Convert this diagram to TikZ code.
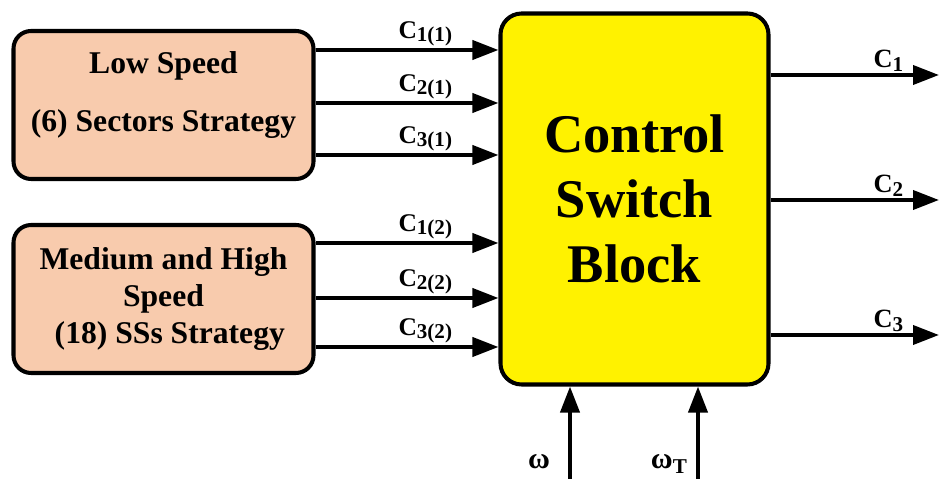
\documentclass[tikz,border=0pt]{standalone}
\usepackage{fontspec}
\setmainfont{Liberation Serif}
\usetikzlibrary{positioning,arrows.meta}
\definecolor{peach}{RGB}{248,203,173}
\newcommand{\idx}[1]{\raisebox{-0.3ex}{\fontsize{12}{14}\selectfont #1}}

\begin{document}
\begin{tikzpicture}[
  font=\bfseries, >={Triangle[length=0.52cm,width=0.38cm]},
  strat/.style={draw, line width=2.3pt, rounded corners=10pt, fill=peach, align=center,
                minimum width=6cm, minimum height=2.96cm,
                font=\fontsize{18}{21}\selectfont\bfseries},
  ctrl/.style={draw, line width=2.3pt, rounded corners=12pt, fill=yellow, align=center,
               minimum width=5.36cm, minimum height=7.42cm,
               font=\fontsize{31}{36.8}\selectfont\bfseries},
  arr/.style={->, line width=2.2pt},
  lbl/.style={font=\fontsize{14.5}{16}\selectfont\bfseries, inner sep=1pt},
  olbl/.style={font=\fontsize{15}{17}\selectfont\bfseries, inner sep=1pt},
  wlbl/.style={font=\fontsize{17}{19}\selectfont\bfseries, inner sep=1pt},
]
\useasboundingbox (0,0) rectangle (18.78,9.58);

\node[strat, text depth=15pt] (low) at (3.27,7.48) {Low Speed\\[12pt](6) Sectors Strategy};
\node[strat] (med) at (3.27,3.6)  {Medium and High\\[0pt]Speed\\[0pt]\hspace*{0.4em}(18) SSs Strategy};
\node[ctrl]  (csb) at (12.69,5.6) {Control\\Switch\\Block};

% inputs from both strategies
\foreach \d/\s in {1.1/1(1), 0.04/2(1), -1.0/3(1)}
  \draw[arr] ([yshift=\d cm]low.east) coordinate (s) -- (s -| csb.west)
    node[lbl, above, pos=0.6] {C\idx{\s}};
\foreach \d/\s in {1.12/1(2), 0.02/2(2), -0.96/3(2)}
  \draw[arr] ([yshift=\d cm]med.east) coordinate (s) -- (s -| csb.west)
    node[lbl, above, pos=0.6] {C\idx{\s}};

% outputs
\coordinate (o1) at (18.78,8.08);
\coordinate (o2) at (18.78,5.58);
\coordinate (o3) at (18.78,2.88);
\foreach \o/\s in {o1/1, o2/2, o3/3}
  \draw[arr] (\o -| csb.east) -- (\o) node[olbl, above, pos=0.7] {C\idx{\s}};

% speed signals
\coordinate (w1) at (11.4,0);
\coordinate (w2) at (13.96,0);
\draw[arr] (w1) -- (w1 |- csb.south);
\draw[arr] (w2) -- (w2 |- csb.south);
\node[wlbl, anchor=base east] (wl) at ([shift={(-0.36,0.2)}]w1) {ω};
\node[wlbl, anchor=base east] (wt) at ([shift={(-0.18,0.2)}]w2) {ω\idx{T}};
\end{tikzpicture}
\end{document}
